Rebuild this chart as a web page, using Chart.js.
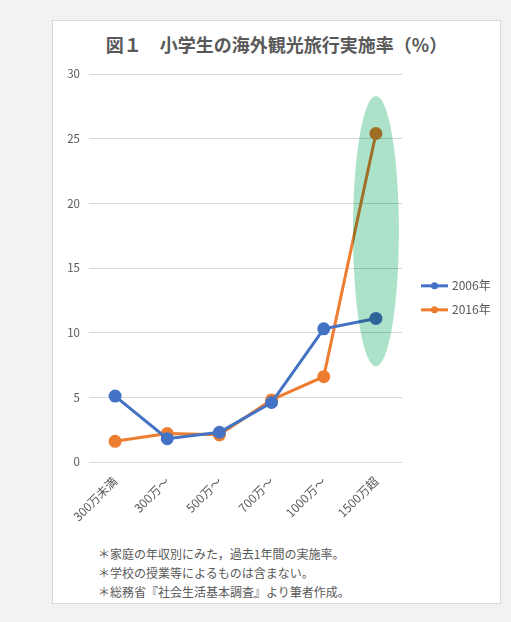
<!DOCTYPE html>
<html lang="ja">
<head>
<meta charset="utf-8">
<script src="https://cdn.jsdelivr.net/npm/chart.js@4/dist/chart.umd.min.js"></script>
<style>
  body { margin: 0; background: #f2f2f2; font-family: "Noto Sans CJK JP", "Noto Sans", sans-serif; }
  #panel { position: absolute; left: 52px; top: 20px; width: 447px; height: 582px; background: #fff; border: 1px solid #d9d9d9; }
  #title { position: absolute; left: 0; top: 11px; width: 100%; text-align: center; font-size: 18px; font-weight: bold; color: #595959; line-height: 24px; }
  #wrap { position: absolute; left: 0; top: 0; width: 447px; height: 510px; }
  #notes { position: absolute; left: 45px; top: 523px; font-size: 12px; color: #595959; line-height: 19px; }
</style>
</head>
<body>
<div id="panel">
  <div id="title">図１　小学生の海外観光旅行実施率（%）</div>
  <div id="wrap"><canvas id="chart"></canvas></div>
  <div id="notes">
    <div>＊家庭の年収別にみた，過去1年間の実施率。</div>
    <div>＊学校の授業等によるものは含まない。</div>
    <div>＊総務省『社会生活基本調査』より筆者作成。</div>
  </div>
</div>
<script>
const categories = ['300万未満', '300万～', '500万～', '700万～', '1000万～', '1500万超'];
const rate2006 = [5.1, 1.8, 2.3, 4.6, 10.3, 11.1];
const rate2016 = [1.6, 2.2, 2.1, 4.8, 6.6, 25.4];
const seriesNames = ['2006年', '2016年'];
const yTicks = [0, 5, 10, 15, 20, 25, 30];
// highlighted range on the last category
const highlightTop = 28.3;
const highlightBottom = 7.4;

const colors = ['#4472C4', '#ED7D31'];
const grey = '#595959';

const highlight = {
    id: 'highlight',
    afterDatasetsDraw(chart) {
        const { ctx, scales: { x, y } } = chart;
        const cx = x.getPixelForValue(categories.length - 1);
        const step = x.getPixelForValue(1) - x.getPixelForValue(0);
        const top = y.getPixelForValue(highlightTop);
        const bottom = y.getPixelForValue(highlightBottom);
        ctx.save();
        ctx.globalCompositeOperation = 'multiply';
        ctx.fillStyle = '#abe2c9';
        ctx.beginPath();
        ctx.ellipse(cx, (top + bottom) / 2, step * 0.44, (bottom - top) / 2, 0, 0, Math.PI * 2);
        ctx.fill();
        ctx.restore();
    }
};

const sideLegend = {
    id: 'sideLegend',
    afterDraw(chart) {
        const { ctx, chartArea } = chart;
        ctx.save();
        chart.data.datasets.forEach((ds, i) => {
            const ly = chartArea.top + chartArea.height * 0.546 + i * 24;
            const lx = chartArea.right + 19;
            ctx.strokeStyle = ds.borderColor;
            ctx.lineWidth = 3;
            ctx.beginPath();
            ctx.moveTo(lx, ly);
            ctx.lineTo(lx + 27, ly);
            ctx.stroke();
            ctx.fillStyle = ds.borderColor;
            ctx.beginPath();
            ctx.arc(lx + 13.5, ly, 3.5, 0, Math.PI * 2);
            ctx.fill();
            ctx.fillStyle = grey;
            ctx.font = '12px "Noto Sans CJK JP"';
            ctx.textBaseline = 'middle';
            ctx.fillText(ds.label, lx + 31, ly);
        });
        ctx.restore();
    }
};

const data = {
    labels: categories,
    datasets: [rate2006, rate2016].map((values, i) => ({
        label: seriesNames[i],
        data: values,
        borderColor: colors[i],
        backgroundColor: colors[i],
        borderWidth: 3,
        pointRadius: 5,
        pointHoverRadius: 5,
        tension: 0
    }))
};

const config = {
    type: 'line',
    data: data,
    options: {
        responsive: true,
        maintainAspectRatio: false,
        animation: false,
        layout: { padding: { left: 14, right: 98, top: 53, bottom: 9 } },
        plugins: {
            legend: { display: false },
            tooltip: { enabled: false }
        },
        scales: {
            x: {
                offset: true,
                afterFit: (scale) => { scale.height = 60; },
                grid: { display: false, offset: true },
                border: { display: false },
                ticks: {
                    color: grey,
                    font: { size: 12, family: '"Noto Sans CJK JP"' },
                    minRotation: 45,
                    maxRotation: 45,
                    padding: 4
                }
            },
            y: {
                min: 0,
                max: 30,
                afterFit: (scale) => { scale.width = 22; },
                afterBuildTicks: (scale) => { scale.ticks = yTicks.map((v) => ({ value: v })); },
                grid: { color: '#d9d9d9', drawTicks: false },
                border: { display: false },
                ticks: {
                    color: grey,
                    font: { size: 11.5, family: '"Noto Sans CJK JP"' },
                    padding: 9
                }
            }
        }
    },
    plugins: [highlight, sideLegend]
};

window.myChart = new Chart(document.getElementById('chart'), config);
</script>
</body>
</html>
